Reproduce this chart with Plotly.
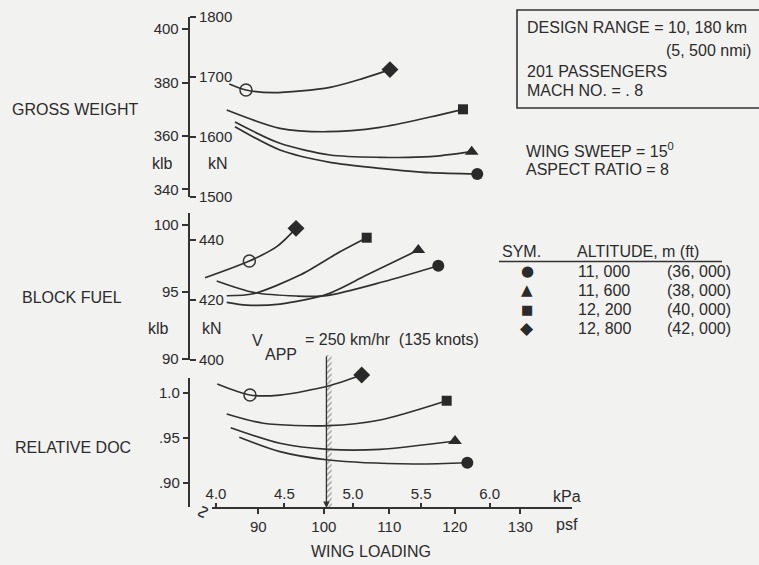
import plotly.graph_objects as go

W, H = 759, 565
FONT = "Liberation Sans, Arial, sans-serif"
SYMFONT = "DejaVu Sans, sans-serif"
INK = "#2b2b2b"
BG = "#f2f2f0"
KN_TO_KLB = 0.224809
KPA_TO_PSF = 20.8854

# ---------------- data (x: wing loading, psf) ----------------
SERIES = ["11,000 m", "11,600 m", "12,200 m", "12,800 m"]

GW_CIRCLE_X = [86.44, 93.31, 100.95, 108.58, 116.21, 123.43]
GW_CIRCLE_Y = [363.44, 354.71, 350.10, 347.85, 346.20, 345.71]
GW_TRIANGLE_X = [86.44, 93.31, 100.95, 108.58, 116.21, 122.58]
GW_TRIANGLE_Y = [365.20, 357.22, 352.83, 351.97, 352.20, 354.07]
GW_SQUARE_X = [85.18, 93.31, 100.44, 108.58, 116.21, 121.25]
GW_SQUARE_Y = [369.69, 362.84, 361.56, 363.21, 367.07, 369.96]
GW_DIAMOND_X = [85.57, 88.12, 92.29, 100.95, 106.03, 110.10]
GW_DIAMOND_Y = [379.44, 377.19, 376.18, 378.20, 381.57, 384.83]

BF_CIRCLE_X = [83.65, 89.24, 95.86, 100.44, 109.08, 117.48]
BF_CIRCLE_Y = [95.82, 94.97, 94.70, 94.73, 95.76, 96.96]
BF_TRIANGLE_X = [85.18, 88.23, 93.31, 100.44, 106.55, 114.43]
BF_TRIANGLE_Y = [94.23, 94.02, 94.10, 94.82, 96.26, 98.13]
BF_SQUARE_X = [85.18, 89.24, 96.37, 102.47, 106.55]
BF_SQUARE_Y = [94.72, 94.87, 96.26, 98.00, 99.05]
BF_DIAMOND_X = [81.86, 88.63, 92.81, 95.76]
BF_DIAMOND_Y = [96.06, 97.31, 98.38, 99.75]

DOC_CIRCLE_X = [87.10, 93.31, 100.69, 113.66, 121.91]
DOC_CIRCLE_Y = [0.9505, 0.9346, 0.9254, 0.9210, 0.9224]
DOC_TRIANGLE_X = [85.79, 93.31, 100.69, 108.58, 120.03]
DOC_TRIANGLE_Y = [0.9611, 0.9439, 0.9372, 0.9372, 0.9464]
DOC_SQUARE_X = [85.18, 90.76, 100.69, 108.58, 118.76]
DOC_SQUARE_Y = [0.9762, 0.9660, 0.9633, 0.9696, 0.9909]
DOC_DIAMOND_X = [83.74, 88.73, 93.31, 100.69, 105.79]
DOC_DIAMOND_Y = [1.0094, 0.9972, 0.9972, 1.0072, 1.0193]

OPEN_IDX = 1          # open-circle point on the 12,800 m curves
V_APP_PSF = 100.4     # approach-speed limit

GW_KLB_TICKS = [340, 360, 380, 400]
GW_KN_TICKS = [1500, 1600, 1700, 1800]
BF_KLB_TICKS = [90, 95, 100]
BF_KN_TICKS = [400, 420, 440]
DOC_TICKS = [0.90, 0.95, 1.0]
DOC_TICK_TEXT = [".90", ".95", "1.0"]
PSF_TICKS = [90, 100, 110, 120, 130]
KPA_TICKS = [4.0, 4.5, 5.0, 5.5, 6.0]

LEG_SYM = ["●", "▲", "■", "◆"]
LEG_M = ["11, 000", "11, 600", "12, 200", "12, 800"]
LEG_FT = ["(36, 000)", "(38, 000)", "(40, 000)", "(42, 000)"]

# ---------------- geometry helpers ----------------
def psf_at(px):
    return 90 + (px - 258.3) / 6.55

def fy(py):
    return 1 - py / H

AXIS_X = 188.8 / W

fig = go.Figure()

SYMS = ["circle", "triangle-up", "square", "diamond"]
MSIZE = [12, 12, 10, 13]
panels = [
    ("y", [(GW_CIRCLE_X, GW_CIRCLE_Y), (GW_TRIANGLE_X, GW_TRIANGLE_Y),
           (GW_SQUARE_X, GW_SQUARE_Y), (GW_DIAMOND_X, GW_DIAMOND_Y)]),
    ("y3", [(BF_CIRCLE_X, BF_CIRCLE_Y), (BF_TRIANGLE_X, BF_TRIANGLE_Y),
            (BF_SQUARE_X, BF_SQUARE_Y), (BF_DIAMOND_X, BF_DIAMOND_Y)]),
    ("y5", [(DOC_CIRCLE_X, DOC_CIRCLE_Y), (DOC_TRIANGLE_X, DOC_TRIANGLE_Y),
            (DOC_SQUARE_X, DOC_SQUARE_Y), (DOC_DIAMOND_X, DOC_DIAMOND_Y)]),
]
for yax, series in panels:
    for i, (xs, ys) in enumerate(series):
        fig.add_trace(go.Scatter(x=xs, y=ys, xaxis="x", yaxis=yax, mode="lines",
                                 line=dict(color="#303030", width=1.7, shape="spline", smoothing=0.8),
                                 name=SERIES[i], hoverinfo="skip"))
        fig.add_trace(go.Scatter(x=[xs[-1]], y=[ys[-1]], xaxis="x", yaxis=yax, mode="markers",
                                 marker=dict(symbol=SYMS[i], size=MSIZE[i], color="#2a2a2a"),
                                 cliponaxis=False, hoverinfo="skip"))
    dx, dy = series[3]
    fig.add_trace(go.Scatter(x=[dx[OPEN_IDX]], y=[dy[OPEN_IDX]], xaxis="x", yaxis=yax, mode="markers",
                             marker=dict(symbol="circle-open", size=12, color="#333333", line=dict(width=1.5)),
                             cliponaxis=False, hoverinfo="skip"))

# hatched approach-speed band
fig.add_trace(go.Bar(x=[V_APP_PSF], y=[1], width=[0.8], offset=0, xaxis="x", yaxis="y6",
                     marker=dict(color="rgba(0,0,0,0)", line=dict(width=0),
                                 pattern=dict(shape="/", fgcolor="#4a4a4a", size=4, solidity=0.35)),
                     hoverinfo="skip"))
# empty traces so the axis-only subplots are drawn
for xa, ya in [("x2", "y"), ("x3", "y"), ("x", "y2"), ("x", "y4"), ("x", "y7")]:
    fig.add_trace(go.Scatter(x=[], y=[], xaxis=xa, yaxis=ya, hoverinfo="skip"))

tickfont = dict(size=15, color=INK, family=FONT)
common_y = dict(showgrid=False, zeroline=False, linecolor="#333333", linewidth=2.2,
                ticks="outside", ticklen=6, tickwidth=1.5, tickcolor="#333333",
                tickfont=tickfont, anchor="free", position=AXIS_X, automargin=False, fixedrange=True)

gw_dom = [fy(196.7), fy(16.7)]
gw_rng = [1500 * KN_TO_KLB, 1800 * KN_TO_KLB]
bf_dom = [fy(360), fy(213.3)]
bf_rng = [400 * KN_TO_KLB, 400 * KN_TO_KLB + (360 - 213.3) / 13.4]
DOC_PX = 905.0
doc_line_dom = [fy(506.7), fy(378.3)]
doc_dom = [fy(506.7), fy(368)]
doc_rng = [0.90 - (506.7 - 483) / DOC_PX, 1.0 + (392.5 - 368) / DOC_PX]

fig.update_layout(
    width=W, height=H, margin=dict(l=0, r=0, t=0, b=0),
    paper_bgcolor=BG, plot_bgcolor="rgba(0,0,0,0)", showlegend=False,
    font=dict(family=FONT, color=INK, size=15),
    xaxis=dict(domain=[0, 1], range=[psf_at(0), psf_at(W)], visible=False, fixedrange=True),
    xaxis2=dict(domain=[212 / W, 572 / W], range=[psf_at(212), psf_at(572)], anchor="free",
                position=fy(508.3), showline=True, linecolor="#333333", linewidth=2.2,
                ticks="outside", ticklen=5, tickwidth=1.5, tickcolor="#333333", tickvals=PSF_TICKS,
                tickfont=tickfont, showgrid=False, zeroline=False, automargin=False, fixedrange=True),
    xaxis3=dict(overlaying="x2", side="top", anchor="free", position=fy(508.3),
                range=[psf_at(212) / KPA_TO_PSF, psf_at(572) / KPA_TO_PSF],
                tickvals=KPA_TICKS, ticktext=[f"{v:.1f}" for v in KPA_TICKS],
                ticks="outside", ticklen=5, tickwidth=1.5, tickcolor="#333333", tickfont=tickfont,
                ticklabelstandoff=-2,
                showline=False, showgrid=False, zeroline=False, automargin=False, fixedrange=True),
    yaxis=dict(domain=gw_dom, range=gw_rng, tickvals=GW_KLB_TICKS, side="left", showline=True, **common_y),
    yaxis2=dict(overlaying="y", range=[r / KN_TO_KLB for r in gw_rng], tickvals=GW_KN_TICKS,
                side="right", showline=True, **common_y),
    yaxis3=dict(domain=bf_dom, range=bf_rng, tickvals=BF_KLB_TICKS, side="left", showline=True, **common_y),
    yaxis4=dict(overlaying="y3", range=[r / KN_TO_KLB for r in bf_rng], tickvals=BF_KN_TICKS,
                side="right", showline=True, **common_y),
    yaxis5=dict(domain=doc_dom, range=doc_rng, tickvals=DOC_TICKS, ticktext=DOC_TICK_TEXT,
                side="left", showline=False, **common_y),
    yaxis6=dict(domain=[fy(508), fy(355)], range=[0, 1], visible=False, anchor="x", fixedrange=True),
    yaxis7=dict(domain=doc_line_dom, range=[0, 1], showline=True, linecolor="#333333", linewidth=2.2,
                ticks="", showticklabels=False, showgrid=False, zeroline=False,
                anchor="free", position=AXIS_X, side="left", automargin=False, fixedrange=True),
)


def T(text, px, py, size=16, xa="left", ya="middle", family=FONT, **kw):
    return dict(text=text, x=px / W, y=fy(py), xref="paper", yref="paper", xanchor=xa, yanchor=ya,
                showarrow=False, font=dict(size=size, color=INK, family=family), **kw)


ann = [
    T("GROSS WEIGHT", 10, 110),
    T("BLOCK FUEL", 20, 297),
    T("RELATIVE DOC", 13, 447),
    T("klb", 162, 163, xa="center"), T("kN", 218, 163, xa="center"),
    T("klb", 158, 328, xa="center"), T("kN", 212, 328, xa="center"),
    T("V", 250, 340, size=16), T("APP", 263, 354, size=16),
    T("= 250 km/hr  (135 knots)", 303, 339, size=16),
    T("kPa", 567, 497, xa="center"), T("psf", 567, 524, xa="center"),
    T("WING LOADING", 371, 551, xa="center"),
    T("∿", 204, 512, size=19, xa="center", textangle=90),
    T("DESIGN RANGE = 10, 180 km", 525, 28),
    T("(5, 500 nmi)", 753, 50, xa="right"),
    T("201 PASSENGERS", 525, 71),
    T("MACH NO. = . 8", 525, 91),
    T("WING SWEEP = 15<sup>0</sup>", 524, 150),
    T("ASPECT RATIO = 8", 524, 169),
    T("SYM.", 500, 252),
    T("ALTITUDE, m (ft)", 575, 252),
]
LEG_ROWS = [271, 290, 309, 328]
LEG_SYM_SIZE = [15, 15, 13, 17]
for i in range(4):
    ann.append(T(LEG_SYM[i], 527, LEG_ROWS[i], size=LEG_SYM_SIZE[i], xa="center", family=SYMFONT))
    ann.append(T(LEG_M[i], 576, LEG_ROWS[i]))
    ann.append(T(LEG_FT[i], 665, LEG_ROWS[i]))

# arrow line of the approach-speed limit
ann.append(dict(text="", x=V_APP_PSF, xref="x", y=fy(508), yref="paper", ax=0, ay=-(508 - 355),
                showarrow=True, arrowhead=2, arrowsize=1, arrowwidth=1.3, arrowcolor="#333333",
                standoff=0))
fig.update_layout(annotations=ann)

fig.update_layout(shapes=[
    dict(type="rect", xref="paper", yref="paper", x0=517 / W, x1=1.02, y0=fy(108), y1=fy(10),
         line=dict(color="#333333", width=1.6)),
    dict(type="line", xref="paper", yref="paper", x0=499 / W, x1=722 / W, y0=fy(261.5), y1=fy(261.5),
         line=dict(color="#333333", width=1.6)),
])

fig.write_html("out.html", config={"displayModeBar": False},
               post_script="document.body.style.margin='0px';document.body.style.overflow='hidden';")
